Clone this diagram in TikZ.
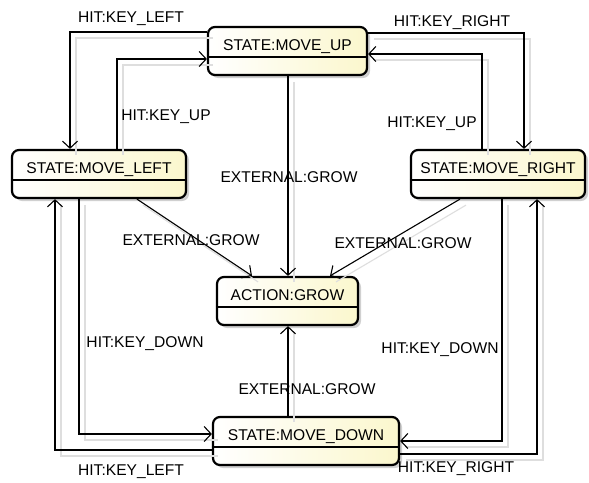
\documentclass[tikz,border=0pt]{standalone}
\usepackage{fontspec}
\setmainfont{Liberation Sans}
\usetikzlibrary{arrows.meta,shadows}
\definecolor{pale}{RGB}{251,247,205}
\definecolor{shadowline}{RGB}{222,222,222}
\tikzset{
  statebox/.style={draw=black, line width=2.2pt, rounded corners=7pt,
    left color=white, right color=pale,
    inner xsep=0pt, inner ysep=0pt, text height=23.5pt, text depth=24.5pt,
    font=\fontsize{15.6}{18}\selectfont,
    drop shadow={shadow xshift=3pt, shadow yshift=-3pt, fill=black!30, opacity=0.6}},
  divider/.style={line width=1.3pt, black},
  edge/.style={line width=1.1pt, black, -{Straight Barb[length=7pt,width=15pt,line width=1.1pt]},
    preaction={draw=shadowline, line width=1.1pt, -, transform canvas={shift={(6pt,-6pt)}}}},
  elabel/.style={font=\fontsize{15.6}{18}\selectfont, inner sep=0pt}
}
\newcommand{\compline}[1]{\draw[divider] ([yshift=-31pt]#1.north west) -- ([yshift=-31pt]#1.north east);}
\begin{document}
\begin{tikzpicture}[x=1pt,y=1pt]
\useasboundingbox[fill=white] (0,0) rectangle (589,-482);

\node[statebox, minimum width=159pt] (up) at (287.5,-51) {STATE:MOVE\_UP};
\node[statebox, minimum width=174pt] (left) at (99,-174) {STATE:MOVE\_LEFT};
\node[statebox, minimum width=174pt] (right) at (498,-174) {STATE:MOVE\_RIGHT};
\node[statebox, minimum width=141pt] (grow) at (287.5,-301) {ACTION:GROW};
\node[statebox, minimum width=186pt] (down) at (306,-441) {STATE:MOVE\_DOWN};
\compline{up}
\compline{left}
\compline{right}
\compline{grow}
\compline{down}

% up <-> left
\draw[edge] (up.west |- 0,-32) -| (left.north -| 70,0);
\node[elabel] (l1) at (131,-19) {HIT:KEY\_LEFT};
\draw[edge] (left.north -| 117,0) |- (up.west |- 0,-59);
\node[elabel] (l2) at (166,-117) {HIT:KEY\_UP};
% up <-> right
\draw[edge] (up.east |- 0,-33) -| (right.north -| 524,0);
\node[elabel] (l3) at (452,-23) {HIT:KEY\_RIGHT};
\draw[edge] (right.north -| 482,0) |- (up.east |- 0,-54);
\node[elabel] (l4) at (432,-124) {HIT:KEY\_UP};
% to grow
\draw[edge] (up.south -| 288,0) -- (grow.north -| 288,0);
\node[elabel] (l5) at (289,-177) {EXTERNAL:GROW};
\draw[edge] (left.south -| 137,0) -- (grow.north -| 252,0);
\node[elabel] (l6) at (191,-240) {EXTERNAL:GROW};
\draw[edge] (right.south -| 460,0) -- (grow.north -| 330,0);
\node[elabel] (l7) at (403,-243) {EXTERNAL:GROW};
\draw[edge] (down.north -| 288,0) -- (grow.south -| 288,0);
\node[elabel] (l10) at (307,-389) {EXTERNAL:GROW};
% left <-> down
\draw[edge] (left.south -| 79,0) |- (down.west |- 0,-434);
\node[elabel] (l8) at (145,-344) {HIT:KEY\_DOWN};
\draw[edge] (down.west |- 0,-450) -| (left.south -| 55,0);
\node[elabel] (l9) at (131,-472) {HIT:KEY\_LEFT};
% right <-> down
\draw[edge] (right.south -| 502,0) |- (down.east |- 0,-441);
\node[elabel] (l11) at (440,-350) {HIT:KEY\_DOWN};
\draw[edge] (down.east |- 0,-454) -| (right.south -| 537,0);
\node[elabel] (l12) at (456,-469) {HIT:KEY\_RIGHT};
\end{tikzpicture}
\end{document}
